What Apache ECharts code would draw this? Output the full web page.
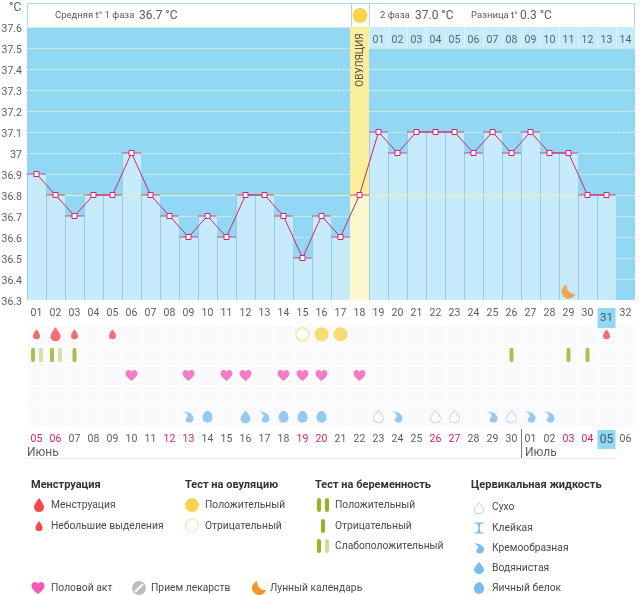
<!DOCTYPE html>
<html>
<head>
<meta charset="utf-8">
<style>
    html, body { margin: 0; padding: 0; background: #fff; }
    #chart { width: 644px; height: 595px; }
</style>
<script src="https://cdn.jsdelivr.net/npm/echarts@6/dist/echarts.min.js"></script>
</head>
<body>
<div id="chart"></div>
<script>
var cycleDays = ['01','02','03','04','05','06','07','08','09','10','11','12','13','14','15','16',
                 '17','18','19','20','21','22','23','24','25','26','27','28','29','30','31','32'];
var calendarDates = ['05','06','07','08','09','10','11','12','13','14','15','16','17','18','19','20',
                     '21','22','23','24','25','26','27','28','29','30','01','02','03','04','05','06'];
var weekendIndexes = [0,1,7,8,14,15,21,22,28,29];
var phaseTwoDays = ['01','02','03','04','05','06','07','08','09','10','11','12','13','14'];
var temperatures = [36.9,36.8,36.7,36.8,36.8,37.0,36.8,36.7,36.6,36.7,36.6,36.8,36.8,36.7,36.5,36.7,
                    36.6,36.8,37.1,37.0,37.1,37.1,37.1,37.0,37.1,37.0,37.1,37.0,37.0,36.8,36.8];
var coverLine = 36.8;
var ovulationDay = 18;
var todayDay = 31;

var spottingDays = [1,3,5,31];
var menstruationDays = [2];
var ovulationPositive = [16,17];
var ovulationNegative = [15];
var weakTestDays = [1,2];
var negativeTestDays = [3,26,29,30];
var sexDays = [6,9,11,12,14,15,16,18];
var dryDays = [19,22,23,26];
var creamyDays = [9,13,20,25,27,28];
var waterDays = [12];
var eggDays = [10,14,15,16];
var moonDays = [29];

var DROP = 'path://M10 0C10 0 1 12 1 18A9 9 0 0 0 19 18C19 12 10 0 10 0Z';
var HEART = 'path://M10 18C3 13 0 9 0 5.5C0 2 2.500 0 5 0C7 0 9 1 10 3C11 1 13 0 15 0C17.500 0 20 2 20 5.500C20 9 17 13 10 18Z';
var EGG = 'path://M10 0C15 0 19 7 19 13A9 9 0 0 1 1 13C1 7 5 0 10 0Z';
var CURL = 'path://M0 0C5 3 11 2 15 7C19 12 17 20 10 20C5 20 3 17 4 14C5 11 8 11 7 8C6 5 3 3 0 0Z';
var STICKY = 'path://M0 0H14V2H9.500L8 8V10L9.500 16H14V18H0V16H4.500L6 10V8L4.500 2H0Z';
var MOON = 'path://M8 0A10 10 0 1 0 20 13A11 11 0 0 1 8 0Z';

var RED = '#F4484F', YELLOW = '#F9D44B', RING = '#F7E08A', GREEN = '#8FB71E', PALEGREEN = '#CBDC9C';
var HEARTPINK = '#F25CB5', FLUID = '#7CBDEE', DRYRING = '#AFD2E8', ORANGE = '#F0962A', CRIMSON = '#D1246F';
var SKY = '#92D8F5', BARBLUE = '#C8EBFC', TEXTGRAY = '#5c5c5c';
var AXISFONT = 'Roboto', LEGENDFONT = 'Roboto';

// bar from low to high on one day column
function bandRect(api) {
    var top = api.coord([api.value(0), api.value(2)]);
    var bottom = api.coord([api.value(0), api.value(1)]);
    var w = api.size([1, 0])[0];
    return { x: top[0] - w / 2, y: top[1], width: w, height: bottom[1] - top[1] };
}

function columns(color, lineColor) {
    return function (params, api) {
        var r = bandRect(api);
        return {
            type: 'group',
            children: [
                { type: 'rect', shape: r, style: { fill: color } },
                { type: 'line', shape: { x1: r.x + 0.5, y1: r.y, x2: r.x + 0.5, y2: r.y + r.height }, style: { stroke: lineColor, lineWidth: 1 } }
            ]
        };
    };
}

function customSeries(data, renderItem, z) {
    return { type: 'custom', xAxisIndex: 0, yAxisIndex: 0, z: z, silent: true, clip: false, encode: { x: 0, y: [1, 2] }, data: data, renderItem: renderItem };
}

function rowSeries(days, row, symbol, size, color, extra) {
    var s = {
        type: 'scatter', xAxisIndex: 2, yAxisIndex: 1, z: 5, silent: true,
        symbol: symbol, symbolSize: size, itemStyle: { color: color },
        data: days.map(function (d) { return [d - 1, row]; })
    };
    for (var k in extra) { s[k] = extra[k]; }
    return s;
}

function txt(x, y, text, size, color, font, weight) {
    return {
        type: 'text', x: x, y: y, silent: true,
        style: { text: text, fontSize: size, fill: color || TEXTGRAY, fontFamily: font || AXISFONT, fontWeight: weight || 'normal', verticalAlign: 'middle' }
    };
}
function icon(path, cx, cy, w, h, fill, stroke) {
    return {
        type: 'path',
        shape: { pathData: path.replace('path://', ''), layout: 'cover', x: cx - w / 2, y: cy - h / 2, width: w, height: h },
        style: { fill: fill, stroke: stroke || null, lineWidth: 1 }
    };
}
function bar(cx, cy, color) {
    return { type: 'rect', silent: true, shape: { x: cx - 2, y: cy - 7, width: 4, height: 14, r: 2 }, style: { fill: color } };
}
function circle(cx, cy, r, fill, stroke) {
    return { type: 'circle', silent: true, shape: { cx: cx, cy: cy, r: r }, style: { fill: fill, stroke: stroke || null, lineWidth: 1 } };
}
function leg(x, y, text) { return txt(x, y, text, 10.3, '#4a4a4a', LEGENDFONT); }
function head(x, text) { return txt(x, 485, text, 11, '#333', LEGENDFONT, 'bold'); }

var legendIcons = [
    icon(DROP, 39, 505, 10, 14, RED),
    icon(DROP, 39, 526, 7, 10, RED),
    icon(DROP, 479, 508, 9, 11, '#fff', DRYRING),
    icon(STICKY, 479, 528, 9, 11, FLUID),
    icon(CURL, 479, 548, 10, 11, FLUID),
    icon(DROP, 479, 568, 10, 12, FLUID),
    icon(EGG, 479, 588, 10, 12, FLUID),
    icon(HEART, 38, 588, 13, 12, HEARTPINK),
    icon(MOON, 259, 588, 14, 14, ORANGE)
];

var barData = temperatures.map(function (t, i) { return [i, 36.3, t]; }).filter(function (d) { return d[0] !== ovulationDay - 1; });
var ovulationTemp = temperatures[ovulationDay - 1];
var cellData = phaseTwoDays.map(function (d, i) { return [ovulationDay + i, 37.5, 37.6]; });

var series = [
    customSeries(barData, columns(BARBLUE, '#93CDE8'), 1),
    customSeries([[ovulationDay - 1, 36.3, ovulationTemp]], columns('#FDF7CE', '#FDF7CE'), 1),
    customSeries([[ovulationDay - 1, ovulationTemp, 37.6]], columns('#FBEE9B', '#FBEE9B'), 1),
    customSeries(cellData, columns(BARBLUE, '#DDF3FD'), 1),
    customSeries([[1, coverLine, coverLine, 30]], function (params, api) {
        var a = api.coord([api.value(0), coverLine]);
        var b = api.coord([api.value(3), coverLine]);
        var w = api.size([1, 0])[0];
        return { type: 'line', shape: { x1: a[0] - w / 2, y1: a[1] + 0.5, x2: b[0] + w / 2, y2: b[1] + 0.5 }, style: { stroke: '#F3F0B0', lineWidth: 1 } };
    }, 2),
    {
        type: 'scatter', xAxisIndex: 0, yAxisIndex: 0, z: 3, silent: true,
        symbol: 'rect', symbolSize: [19, 1], itemStyle: { color: CRIMSON },
        data: temperatures.map(function (t, i) { return [i, t]; })
    },
    {
        type: 'line', xAxisIndex: 0, yAxisIndex: 0, z: 4, silent: true,
        symbol: 'rect', symbolSize: 5, showAllSymbol: true,
        lineStyle: { color: CRIMSON, width: 1 },
        itemStyle: { color: '#fff', borderColor: CRIMSON, borderWidth: 1 },
        data: temperatures
    },
    {
        type: 'scatter', xAxisIndex: 0, yAxisIndex: 0, z: 4, silent: true,
        symbol: MOON, symbolSize: 14, itemStyle: { color: ORANGE },
        data: moonDays.map(function (d) { return [d - 1, 36.34]; })
    },
    rowSeries(spottingDays, 0, DROP, [7, 10], RED),
    rowSeries(menstruationDays, 0, DROP, [10, 14], RED),
    rowSeries(ovulationPositive, 0, 'circle', 14, YELLOW),
    rowSeries(ovulationNegative, 0, 'circle', 13, '#fff', { itemStyle: { color: '#fff', borderColor: RING, borderWidth: 1.5 } }),
    rowSeries(weakTestDays, 1, 'roundRect', [4, 14], GREEN, { symbolOffset: [-3.5, 0] }),
    rowSeries(weakTestDays, 1, 'roundRect', [4, 14], PALEGREEN, { symbolOffset: [4.5, 0] }),
    rowSeries(negativeTestDays, 1, 'roundRect', [4, 14], GREEN),
    rowSeries(sexDays, 2, HEART, [12, 11], HEARTPINK),
    rowSeries(dryDays, 4, DROP, [10, 12], '#fff', { itemStyle: { color: '#fff', borderColor: DRYRING, borderWidth: 1 } }),
    rowSeries(creamyDays, 4, CURL, [10, 12], FLUID),
    rowSeries(waterDays, 4, DROP, [10, 13], FLUID),
    rowSeries(eggDays, 4, EGG, [10, 12], FLUID),
    // legend icons, in pixels
    {
        type: 'custom', coordinateSystem: 'none', silent: true, z: 6, data: [0],
        renderItem: function () { return { type: 'group', children: legendIcons }; }
    }
];

var graphics = [
    // header boxes
    { type: 'rect', silent: true, shape: { x: 27.5, y: 3.5, width: 324, height: 24 }, style: { fill: '#fff', stroke: '#A8DAEE', lineWidth: 1 } },
    { type: 'rect', silent: true, shape: { x: 369.5, y: 3.5, width: 265, height: 24 }, style: { fill: '#fff', stroke: '#A8DAEE', lineWidth: 1 } },
    { type: 'line', silent: true, shape: { x1: 351, y1: 3.5, x2: 370, y2: 3.5 }, style: { stroke: '#A8DAEE', lineWidth: 1 } },
    circle(360, 15.5, 7.5, YELLOW),
    txt(9, 8, '°C', 12, TEXTGRAY),
    txt(55, 16, 'Средняя t° 1 фаза', 9.5, TEXTGRAY),
    txt(139, 15.5, '36.7 °C', 12, TEXTGRAY),
    txt(380, 16, '2 фаза', 9.5, TEXTGRAY),
    txt(415, 15.5, '37.0 °C', 12, TEXTGRAY),
    txt(471, 16, 'Разница t°', 9.5, TEXTGRAY),
    txt(520, 15.5, '0.3 °C', 12, TEXTGRAY),
    {
        type: 'text', x: 360, y: 60, rotation: Math.PI / 2, silent: true, z: 10,
        style: { text: 'ОВУЛЯЦИЯ', fontSize: 10, fill: '#555', fontFamily: AXISFONT, align: 'center', verticalAlign: 'middle' }
    },
    // month marks under the dates
    txt(27, 453, 'Июнь', 12, TEXTGRAY),
    txt(525, 453, 'Июль', 12, TEXTGRAY),
    { type: 'line', silent: true, shape: { x1: 521.5, y1: 429, x2: 521.5, y2: 458 }, style: { stroke: '#777', lineWidth: 1 } },
    { type: 'line', silent: true, shape: { x1: 27, y1: 458.5, x2: 616, y2: 458.5 }, style: { stroke: '#EEEEEE', lineWidth: 1 } },
    // legend
    head(31, 'Менструация'),
    leg(51, 505, 'Менструация'),
    leg(51, 526, 'Небольшие выделения'),
    head(185, 'Тест на овуляцию'),
    circle(192, 505, 7, YELLOW), leg(205, 505, 'Положительный'),
    circle(192, 525.5, 6.5, '#fff', RING), leg(205, 526, 'Отрицательный'),
    head(315, 'Тест на беременность'),
    bar(319, 505, GREEN), bar(327, 505, GREEN), leg(335, 505, 'Положительный'),
    bar(323, 526, GREEN), leg(335, 526, 'Отрицательный'),
    bar(319, 546, GREEN), bar(327, 546, PALEGREEN), leg(335, 546, 'Слабоположительный'),
    head(471, 'Цервикальная жидкость'),
    leg(492, 507, 'Сухо'),
    leg(492, 528, 'Клейкая'),
    leg(492, 548, 'Кремообразная'),
    leg(492, 568, 'Водянистая'),
    leg(492, 588, 'Яичный белок'),
    leg(51, 588, 'Половой акт'),
    circle(139, 588, 7, '#BDBDBD'),
    { type: 'line', silent: true, shape: { x1: 135, y1: 592, x2: 143, y2: 584 }, style: { stroke: '#fff', lineWidth: 2 } },
    leg(151, 588, 'Прием лекарств'),
    leg(270, 588, 'Лунный календарь')
];

var chart = echarts.init(document.getElementById('chart'), null, { renderer: 'canvas' });
chart.setOption({
    animation: false,
    backgroundColor: '#fff',
    grid: [
        { left: 27, top: 27, width: 608, height: 273, show: true, backgroundColor: SKY, borderWidth: 0, outerBoundsMode: 'none' },
        { left: 27, top: 324, width: 608, height: 103, show: true, backgroundColor: '#FAFAFC', borderWidth: 0, outerBoundsMode: 'none' }
    ],
    xAxis: [
        {
            type: 'category', gridIndex: 0, position: 'bottom', data: cycleDays,
            axisLine: { show: false }, axisTick: { show: false }, splitLine: { show: false },
            axisLabel: {
                interval: 0, margin: 8, fontFamily: AXISFONT, fontSize: 10.5, color: TEXTGRAY,
                formatter: function (v, i) { return i === todayDay - 1 ? '{today|' + v + '}' : v; },
                rich: { today: { backgroundColor: SKY, color: '#3f5a68', fontFamily: AXISFONT, fontSize: 11.5, width: 18, height: 20, lineHeight: 20, align: 'center' } }
            }
        },
        {
            type: 'category', gridIndex: 0, position: 'top', z: 10,
            data: cycleDays.map(function (d, i) { return phaseTwoDays[i - ovulationDay] || ''; }),
            axisLine: { show: false }, axisTick: { show: false }, splitLine: { show: false },
            axisLabel: { interval: 0, inside: true, margin: 8, fontFamily: AXISFONT, fontSize: 10.5, color: '#4f6773' }
        },
        {
            type: 'category', gridIndex: 1, position: 'bottom', data: calendarDates,
            axisLine: { show: false }, axisTick: { show: false },
            splitLine: { show: true, interval: 0, lineStyle: { color: '#fff', width: 1 } },
            axisLabel: {
                interval: 0, margin: 3, fontFamily: AXISFONT, fontSize: 10.5, color: TEXTGRAY,
                formatter: function (v, i) {
                    if (i === todayDay - 1) { return '{today|' + v + '}'; }
                    return weekendIndexes.indexOf(i) >= 0 ? '{red|' + v + '}' : '{gray|' + v + '}';
                },
                rich: {
                    today: { backgroundColor: SKY, color: '#3f5a68', fontFamily: AXISFONT, fontSize: 12, width: 18, height: 19, lineHeight: 19, align: 'center' },
                    red: { color: '#D8205F', fontFamily: AXISFONT, fontSize: 10.5, height: 19, lineHeight: 19 },
                    gray: { color: TEXTGRAY, fontFamily: AXISFONT, fontSize: 10.5, height: 19, lineHeight: 19 }
                }
            }
        }
    ],
    yAxis: [
        {
            type: 'value', gridIndex: 0, min: 36.3, max: 37.6, interval: 0.1,
            axisLine: { show: false }, axisTick: { show: false },
            splitLine: { show: true, lineStyle: { color: '#fff', type: 'dotted', width: 1 } },
            axisLabel: { margin: 5, fontFamily: AXISFONT, fontSize: 10.5, color: TEXTGRAY, verticalAlign: 'top', lineHeight: 5 }
        },
        {
            type: 'category', gridIndex: 1, inverse: true, data: ['0', '1', '2', '3', '4'],
            axisLine: { show: false }, axisTick: { show: false }, axisLabel: { show: false },
            splitLine: { show: true, interval: 0, lineStyle: { color: '#fff', width: 1 } }
        }
    ],
    series: series,
    graphic: { elements: graphics }
});
</script>
</body>
</html>
